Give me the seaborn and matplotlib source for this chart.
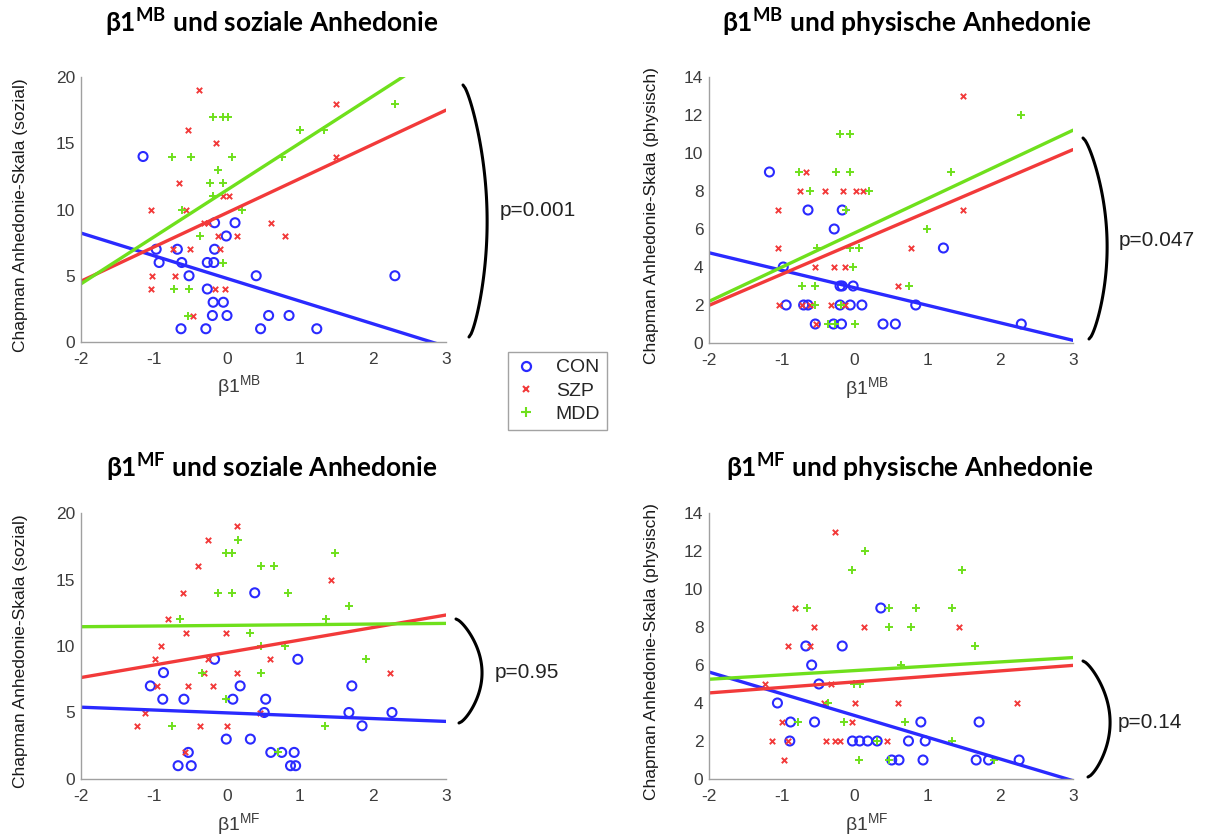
import numpy as np
import pandas as pd
import seaborn as sns
import matplotlib.pyplot as plt
from matplotlib.lines import Line2D

# --- beta1 MB vs soziale Anhedonie ---
mb_soz_con_x = [-1.15, -0.97, -0.93, -0.68, -0.62, -0.63, -0.52, -0.29, -0.27, -0.27, -0.18, -0.17, -0.17,
                -0.19, -0.20, -0.05, -0.01, 0.00, 0.11, 0.40, 0.46, 0.57, 0.85, 1.23, 2.30]
mb_soz_con_y = [14, 7, 6, 7, 6, 1, 5, 1, 6, 4, 6, 7, 9, 3, 2, 3, 8, 2, 9, 5, 1, 2, 2, 1, 5]
mb_soz_szp_x = [-0.39, -0.54, -0.15, -0.66, -0.06, 0.03, -1.04, -0.56, -0.32, -0.26, 0.60, -0.13, 0.14,
                0.79, -0.74, -0.51, -0.10, -1.03, -0.71, -1.04, -0.17, -0.03, -0.47, 1.49, 1.49]
mb_soz_szp_y = [19, 16, 15, 12, 11, 11, 10, 10, 9, 9, 9, 8, 8, 8, 7, 7, 7, 5, 5, 4, 4, 4, 2, 18, 14]
mb_soz_mdd_x = [-0.19, -0.05, 0.01, -0.75, -0.49, 0.07, -0.12, -0.23, -0.05, -0.19, -0.62, 0.21, -0.37,
                -0.05, -0.72, -0.52, -0.54, 1.00, 1.33, 0.76, 2.30]
mb_soz_mdd_y = [17, 17, 17, 14, 14, 14, 13, 12, 12, 11, 10, 10, 8, 6, 4, 4, 2, 16, 16, 14, 18]

# --- beta1 MB vs physische Anhedonie ---
mb_phy_con_x = [-1.17, -0.64, -0.17, -0.28, 1.22, -0.98, -0.20, -0.17, -0.02, -0.94, -0.70, -0.64, -0.20,
                -0.06, 0.10, 0.84, -0.54, -0.29, -0.18, 0.39, 0.56, 2.29]
mb_phy_con_y = [9, 7, 7, 6, 5, 4, 3, 3, 3, 2, 2, 2, 2, 2, 2, 2, 1, 1, 1, 1, 1, 1]
mb_phy_szp_x = [1.49, -0.67, -0.75, -0.40, -0.16, 0.02, 0.12, -1.05, 1.49, -1.05, 0.78, -0.55, -0.28,
                -0.13, 0.60, -1.04, -0.72, -0.61, -0.33, -0.13, -0.53]
mb_phy_szp_y = [13, 9, 8, 8, 8, 8, 8, 7, 7, 5, 5, 4, 4, 4, 3, 2, 2, 2, 2, 2, 1]
mb_phy_mdd_x = [2.29, -0.20, -0.06, -0.76, -0.25, -0.06, 1.32, -0.61, 0.20, -0.12, 0.99, -0.51, -0.06,
                0.06, -0.02, -0.72, -0.55, 0.75, -0.54, -0.19, -0.37, -0.27, 0.00]
mb_phy_mdd_y = [12, 11, 11, 9, 9, 9, 9, 8, 8, 7, 6, 5, 5, 5, 4, 3, 3, 3, 2, 2, 1, 1, 1]

# --- beta1 MF vs soziale Anhedonie ---
mf_soz_con_x = [-1.05, -0.87, -0.88, -0.59, -0.17, 0.38, 0.08, 0.18, 0.53, 0.51, 0.97, -0.01, 0.32,
                -0.53, 0.60, 0.75, 0.92, -0.67, -0.49, 0.87, 0.94, 1.71, 1.67, 1.85, 2.26]
mf_soz_con_y = [7, 8, 6, 6, 9, 14, 6, 7, 6, 5, 9, 3, 3, 2, 2, 2, 2, 1, 1, 1, 1, 7, 5, 4, 5]
mf_soz_szp_x = [0.14, -0.26, -0.40, -0.60, -0.81, -0.56, -0.02, -0.91, -0.99, -0.26, 0.59, -0.32, 0.14,
                2.23, -0.96, -0.54, -0.19, -1.12, 0.45, -1.23, -0.37, 0.00, -0.58, 1.43]
mf_soz_szp_y = [19, 18, 16, 14, 12, 11, 11, 10, 9, 9, 9, 8, 8, 8, 7, 7, 7, 5, 5, 4, 4, 4, 2, 15]
mf_soz_mdd_x = [0.15, -0.02, 0.07, 1.48, 0.46, 0.65, -0.12, 0.07, 0.84, 1.67, -0.65, 1.35, 0.32, 0.47,
                0.79, 1.91, -0.34, 0.47, -0.01, -0.76, 1.34, 0.70]
mf_soz_mdd_y = [18, 17, 17, 17, 16, 16, 14, 14, 14, 13, 12, 12, 11, 10, 10, 9, 8, 8, 6, 4, 4, 2]

# --- beta1 MF vs physische Anhedonie ---
mf_phy_con_x = [0.36, -0.67, -0.17, -0.59, -0.49, -1.06, -0.88, -0.55, 0.91, 1.71, -0.89, -0.03, 0.07,
                0.18, 0.31, 0.74, 0.97, 0.51, 0.61, 0.94, 1.67, 1.84, 2.26]
mf_phy_con_y = [9, 7, 7, 6, 5, 4, 3, 3, 3, 3, 2, 2, 2, 2, 2, 2, 2, 1, 1, 1, 1, 1, 1]
mf_phy_szp_x = [-0.27, -0.82, -0.56, 0.13, 1.43, -0.92, -0.61, -1.23, -0.32, -0.42, 0.00, 0.59, 2.23,
                -1.00, -0.03, -1.13, -0.92, -0.39, -0.27, -0.20, 0.45, -0.97]
mf_phy_szp_y = [13, 9, 8, 8, 8, 7, 7, 5, 5, 4, 4, 4, 4, 3, 3, 2, 2, 2, 2, 2, 2, 1]
mf_phy_mdd_x = [0.14, -0.03, 1.48, -0.66, 0.47, 0.84, 1.34, 0.47, 0.78, 1.66, 0.64, -0.01, 0.07, -0.36,
                -0.78, -0.14, 0.69, 0.31, 1.34, 0.06, 0.47, 1.91]
mf_phy_mdd_y = [12, 11, 11, 9, 9, 9, 9, 8, 8, 7, 6, 5, 5, 4, 3, 3, 3, 2, 2, 1, 1, 1]

# regression lines, value at x=-2 and x=3 (CON, SZP, MDD)
line_x = [-2, 3]
mb_soz_fit = [(8.22, -0.34), (4.59, 17.5), (4.39, 22.1)]
mb_phy_fit = [(4.75, 0.14), (1.98, 10.18), (2.19, 11.2)]
mf_soz_fit = [(5.4, 4.33), (7.63, 12.33), (11.45, 11.7)]
mf_phy_fit = [(5.63, -0.09), (4.53, 5.98), (5.25, 6.39)]

groups = ['CON', 'SZP', 'MDD']
p_values = ['p=0.001', 'p=0.047', 'p=0.95', 'p=0.14']
titles = [r'β1$^{\mathbf{MB}}$ und soziale Anhedonie', r'β1$^{\mathbf{MB}}$ und physische Anhedonie',
          r'β1$^{\mathbf{MF}}$ und soziale Anhedonie', r'β1$^{\mathbf{MF}}$ und physische Anhedonie']
xlabels = [r'β1$^{\mathrm{MB}}$', r'β1$^{\mathrm{MB}}$', r'β1$^{\mathrm{MF}}$', r'β1$^{\mathrm{MF}}$']
ylabels = ['Chapman Anhedonie-Skala (sozial)', 'Chapman Anhedonie-Skala (physisch)',
           'Chapman Anhedonie-Skala (sozial)', 'Chapman Anhedonie-Skala (physisch)']

sns.set_theme(style='white')
plt.rcParams['font.family'] = ['Liberation Sans', 'DejaVu Sans']
plt.rcParams['mathtext.fontset'] = 'custom'
plt.rcParams['mathtext.rm'] = 'Liberation Sans'
plt.rcParams['mathtext.bf'] = 'Lato:bold'
plt.rcParams['axes.unicode_minus'] = False

colors = {'CON': '#2a2aff', 'SZP': '#f23a3a', 'MDD': '#6fe01c'}
markers = {'CON': 'o', 'SZP': 'x', 'MDD': '+'}
sizes = {'CON': 42, 'SZP': 15, 'MDD': 34}

W, H = 1206, 836
fig = plt.figure(figsize=(W / 100, H / 100), dpi=100)

# axes boxes in pixels: left, top, right, bottom
boxes = [(81, 77, 446, 342), (709, 77, 1073, 343), (81, 513, 446, 779), (709, 513, 1073, 779)]
ylims = [20, 14, 20, 14]
ylabel_x = [-0.145, -0.137, -0.145, -0.137]
title_pos = [(272, 22), (907, 22), (272, 467), (910, 467)]
brackets = [((463, 85), 487, (469, 337), (500, 210)),
            ((1083, 138), 1107, (1089, 339), (1119, 240)),
            ((456, 619), 482, (459, 723), (495, 673)),
            ((1083, 661), 1110, (1088, 777), (1118, 722))]

data = [
    [(mb_soz_con_x, mb_soz_con_y), (mb_soz_szp_x, mb_soz_szp_y), (mb_soz_mdd_x, mb_soz_mdd_y)],
    [(mb_phy_con_x, mb_phy_con_y), (mb_phy_szp_x, mb_phy_szp_y), (mb_phy_mdd_x, mb_phy_mdd_y)],
    [(mf_soz_con_x, mf_soz_con_y), (mf_soz_szp_x, mf_soz_szp_y), (mf_soz_mdd_x, mf_soz_mdd_y)],
    [(mf_phy_con_x, mf_phy_con_y), (mf_phy_szp_x, mf_phy_szp_y), (mf_phy_mdd_x, mf_phy_mdd_y)],
]
fits = [mb_soz_fit, mb_phy_fit, mf_soz_fit, mf_phy_fit]

axis_gray = '#a0a0a0'
text_gray = '#3c3c3c'

for i in range(4):
    l, t, r, b = boxes[i]
    ax = fig.add_axes([l / W, 1 - b / H, (r - l) / W, (b - t) / H])
    for g, (xs, ys) in zip(groups, data[i]):
        df = pd.DataFrame({'x': xs, 'y': ys})
        if markers[g] == 'o':
            sns.scatterplot(data=df, x='x', y='y', ax=ax, marker='o', s=sizes[g],
                            facecolors='none', edgecolor=colors[g], linewidth=1.5)
        else:
            sns.scatterplot(data=df, x='x', y='y', ax=ax, marker=markers[g], s=sizes[g],
                            color=colors[g], linewidth=1.4)
    for g, (y0, y1) in zip(groups, fits[i]):
        sns.lineplot(x=line_x, y=[y0, y1], ax=ax, color=colors[g], linewidth=2.4)

    ax.set_xlim(-2, 3)
    ax.set_ylim(0, ylims[i])
    ax.set_xticks(range(-2, 4))
    ax.set_yticks(range(0, ylims[i] + 1, 5 if ylims[i] == 20 else 2))
    sns.despine(ax=ax)
    for s in ['left', 'bottom']:
        ax.spines[s].set_color(axis_gray)
        ax.spines[s].set_linewidth(1.0)
    ax.tick_params(direction='in', length=4, width=1, color=axis_gray, labelcolor=text_gray,
                   labelsize=12.5)
    ax.tick_params(axis='x', pad=7)
    ax.tick_params(axis='y', pad=4)

    ax.set_xlabel(xlabels[i], fontsize=14, color=text_gray)
    ax.xaxis.set_label_coords(0.433, -0.12)
    ax.set_ylabel(ylabels[i], fontsize=12.5, color='#1a1a1a')
    ax.yaxis.set_label_coords(ylabel_x[i], 0.48)

    tx, ty = title_pos[i]
    fig.text(tx / W, 1 - ty / H, titles[i], ha='center', va='center', fontsize=19,
             fontweight='bold', family='Lato', color='black')

    (x0, y0), xm, (x1, y1), (px, py) = brackets[i]
    tt = np.linspace(0, 1, 80)
    bulge = xm - (x0 + x1) / 2
    bx = x0 + (x1 - x0) * tt + bulge * np.sin(np.pi * tt) ** 0.7
    by = y0 + (y1 - y0) * tt
    fig.add_artist(Line2D(bx / W, 1 - by / H, color='black', linewidth=2.2,
                          transform=fig.transFigure, solid_capstyle='round'))
    fig.text(px / W, 1 - py / H, p_values[i], ha='left', va='center', fontsize=15, color='#222222')

handles = [Line2D([], [], linestyle='none', marker='o', markersize=6.5, markerfacecolor='none',
                  markeredgecolor=colors['CON'], markeredgewidth=1.6),
           Line2D([], [], linestyle='none', marker='x', markersize=5, color=colors['SZP'],
                  markeredgewidth=1.5),
           Line2D([], [], linestyle='none', marker='+', markersize=6.5, color=colors['MDD'],
                  markeredgewidth=1.5)]
leg = fig.legend(handles, groups, loc='upper left', bbox_to_anchor=(508 / W, 1 - 352 / H),
                 frameon=True, fancybox=False, fontsize=14, handlelength=1.2, handletextpad=0.9,
                 borderpad=0.35, labelspacing=0.3, borderaxespad=0)
leg.get_frame().set_edgecolor('#8c8c8c')
leg.get_frame().set_linewidth(1.0)

fig.savefig('out.png', dpi=100)
